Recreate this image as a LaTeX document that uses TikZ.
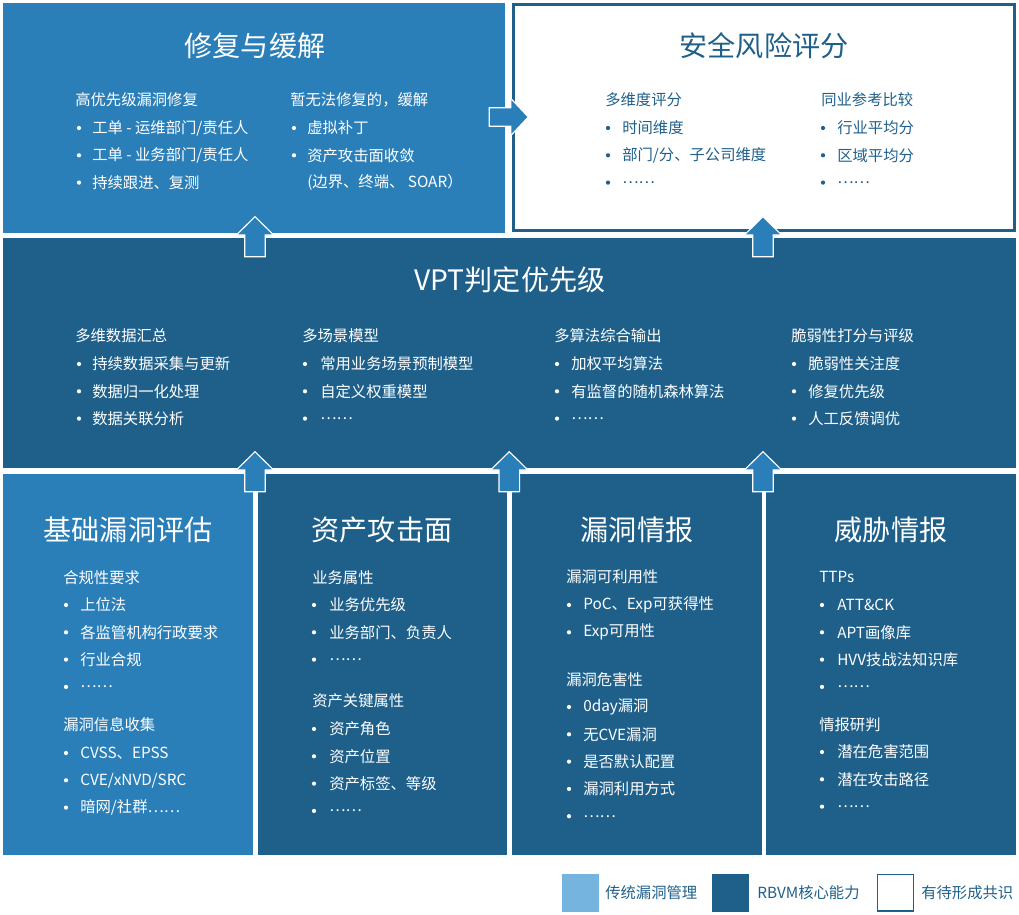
\documentclass[tikz,border=0pt]{standalone}
\usepackage{fontspec}
\usepackage{tikz}
\usetikzlibrary{fit, calc}
\newfontfamily\cjk{Noto Sans CJK SC}
\definecolor{cMid}{RGB}{43,127,184}
\definecolor{cDeep}{RGB}{31,96,138}
\definecolor{cPale}{RGB}{116,180,223}
\tikzset{
	panel/.style   ={rectangle, inner sep=0pt, draw=none},
	ttl/.style     ={inner sep=0pt, text=white, font=\cjk\fontsize{20}{24}\selectfont},
	hdr/.style     ={anchor=west, inner sep=0pt, text=white, font=\cjk\fontsize{10.9}{13}\selectfont},
	itm/.style     ={hdr},
	dot/.style     ={fill=white},
	blkarrow/.style={fill=cMid, draw=white, line width=0.8pt, line join=miter},
	% white panel and legend use dark text
	ink/.style     ={text=cDeep},
}

\begin{document}
\begin{tikzpicture}[x=0.025cm, y=-0.025cm, font=\cjk]
	\useasboundingbox (0,0) rectangle (1019,914);
	% panels
	\node[panel, fill=cMid, fit={(3,3) (505,233)}] (fix) {};
	\node[panel, fill=white, draw=cDeep, line width=1.9pt, fit={(513.3,4.3) (1014.7,230.7)}] (score) {};
	\node[panel, fill=cDeep, fit={(3,238) (1016,468)}] (vpt) {};
	\node[panel, fill=cMid, fit={(3,474) (253,855)}] (base) {};
	\node[panel, fill=cDeep, fit={(258,474) (507,855)}] (asset) {};
	\node[panel, fill=cDeep, fit={(512,474) (762,855)}] (vuln) {};
	\node[panel, fill=cDeep, fit={(766,474) (1016,855)}] (threat) {};

	% block arrows
	\foreach \ax/\ay in {255/216.7, 763/216.7, 255/451.7, 509.3/451.7, 763/451.7}
		\draw[blkarrow] (\ax,\ay) -- ++(18.7,18.3) -- ++(-8.4,0) -- ++(0,21.7) -- ++(-20.6,0) -- ++(0,-21.7) -- ++(-8.4,0) -- cycle;
	\draw[blkarrow] (528.3,117) -- ++(-17.6,-18.7) -- ++(0,9.5) -- ++(-21.4,0) -- ++(0,18.4) -- ++(21.4,0) -- ++(0,9.5) -- cycle;

	% 修复与缓解
	\node[ttl] (fixT) at (255,46) {修复与缓解};
	\node[hdr] (fixA) at (75,100) {高优先级漏洞修复};
	\foreach \t [count=\i, evaluate=\i as \y using 128+27.3*(\i-1)] in {工单 - 运维部门/责任人, 工单 - 业务部门/责任人, 持续跟进、复测} {
		\fill[dot] (79,\y) circle[radius=1.5pt]; \node[itm] at (92,\y) {\t};
	}
	\node[hdr] (fixB) at (290,100) {暂无法修复的，缓解};
	\foreach \t [count=\i, evaluate=\i as \y using 128+27.3*(\i-1)] in {虚拟补丁, 资产攻击面收敛} {
		\fill[dot] (294,\y) circle[radius=1.5pt]; \node[itm] at (307,\y) {\t};
	}
	\node[itm] (fixC) at (307,182) {(边界、终端、 SOAR）};

	% 安全风险评分
	\node[ttl, ink] (scoreT) at (764,46) {安全风险评分};
	\node[hdr, ink] (scoreA) at (605,100) {多维度评分};
	\foreach \t [count=\i, evaluate=\i as \y using 128+27.3*(\i-1)] in {时间维度, 部门/分、子公司维度, ……} {
		\fill[cDeep] (608,\y) circle[radius=1.5pt]; \node[itm, ink] at (622,\y) {\t};
	}
	\node[hdr, ink] (scoreB) at (821,100) {同业参考比较};
	\foreach \t [count=\i, evaluate=\i as \y using 128+27.3*(\i-1)] in {行业平均分, 区域平均分, ……} {
		\fill[cDeep] (823,\y) circle[radius=1.5pt]; \node[itm, ink] at (837,\y) {\t};
	}

	% VPT判定优先级
	\node[ttl] (vptT) at (510,280) {VPT判定优先级};
	\foreach \hx/\bx/\tx/\h/\list in {75/79/92/多维数据汇总/{持续数据采集与更新, 数据归一化处理, 数据关联分析},
			302/305/320/多场景模型/{常用业务场景预制模型, 自定义权重模型, ……},
			554/557/571/多算法综合输出/{加权平均算法, 有监督的随机森林算法, ……},
			791/794/808/脆弱性打分与评级/{脆弱性关注度, 修复优先级, 人工反馈调优}} {
		\node[hdr] at (\hx,336) {\h};
		\foreach \t [count=\i, evaluate=\i as \y using 364+27.3*(\i-1)] in \list {
			\fill[dot] (\bx,\y) circle[radius=1.5pt]; \node[itm] at (\tx,\y) {\t};
		}
	}

	% 基础漏洞评估
	\node[ttl] (baseT) at (128,530) {基础漏洞评估};
	\node[hdr] (baseA) at (63,578) {合规性要求};
	\foreach \t [count=\i, evaluate=\i as \y using 605+27.3*(\i-1)] in {上位法, 各监管机构行政要求, 行业合规, ……} {
		\fill[dot] (66,\y) circle[radius=1.5pt]; \node[itm] at (80,\y) {\t};
	}
	\node[hdr] (baseB) at (63,725) {漏洞信息收集};
	\foreach \t [count=\i, evaluate=\i as \y using 753+27.3*(\i-1)] in {CVSS、EPSS, CVE/xNVD/SRC, 暗网/社群……} {
		\fill[dot] (66,\y) circle[radius=1.5pt]; \node[itm] at (80,\y) {\t};
	}

	% 资产攻击面
	\node[ttl] (assetT) at (382,530) {资产攻击面};
	\node[hdr] (assetA) at (312,578) {业务属性};
	\foreach \t [count=\i, evaluate=\i as \y using 605+27.3*(\i-1)] in {业务优先级, 业务部门、负责人, ……} {
		\fill[dot] (314,\y) circle[radius=1.5pt]; \node[itm] at (329,\y) {\t};
	}
	\node[hdr] (assetB) at (312,701) {资产关键属性};
	\foreach \t [count=\i, evaluate=\i as \y using 729+27.3*(\i-1)] in {资产角色, 资产位置, 资产标签、等级, ……} {
		\fill[dot] (314,\y) circle[radius=1.5pt]; \node[itm] at (329,\y) {\t};
	}

	% 漏洞情报
	\node[ttl] (vulnT) at (637,530) {漏洞情报};
	\node[hdr] (vulnA) at (566,577) {漏洞可利用性};
	\foreach \t [count=\i, evaluate=\i as \y using 605+27.3*(\i-1)] in {PoC、Exp可获得性, Exp可用性} {
		\fill[dot] (569,\y) circle[radius=1.5pt]; \node[itm] at (583,\y) {\t};
	}
	\node[hdr] (vulnB) at (566,680) {漏洞危害性};
	\foreach \t [count=\i, evaluate=\i as \y using 707+27.3*(\i-1)] in {0day漏洞, 无CVE漏洞, 是否默认配置, 漏洞利用方式, ……} {
		\fill[dot] (569,\y) circle[radius=1.5pt]; \node[itm] at (583,\y) {\t};
	}

	% 威胁情报
	\node[ttl] (threatT) at (891,530) {威胁情报};
	\node[hdr] (threatA) at (819,577) {TTPs};
	\foreach \t [count=\i, evaluate=\i as \y using 605+27.3*(\i-1)] in {ATT\&CK, APT画像库, HVV技战法知识库, ……} {
		\fill[dot] (822,\y) circle[radius=1.5pt]; \node[itm] at (837,\y) {\t};
	}
	\node[hdr] (threatB) at (819,725) {情报研判};
	\foreach \t [count=\i, evaluate=\i as \y using 752+27.3*(\i-1)] in {潜在危害范围, 潜在攻击路径, ……} {
		\fill[dot] (822,\y) circle[radius=1.5pt]; \node[itm] at (837,\y) {\t};
	}

	% legend
	\node[panel, fill=cPale, fit={(562,874) (599,911.7)}] (keyPale) {};
	\node[hdr, ink] (keyPaleT) at (605,893) {传统漏洞管理};
	\node[panel, fill=cDeep, fit={(712,874) (749.3,911.7)}] (keyDeep) {};
	\node[hdr, ink] (keyDeepT) at (757,893) {RBVM核心能力};
	\node[panel, fill=white, draw=cDeep, line width=1pt, fit={(877.7,874.7) (913.3,911)}] (keyOpen) {};
	\node[hdr, ink] (keyOpenT) at (921,893) {有待形成共识};
\end{tikzpicture}
\end{document}
